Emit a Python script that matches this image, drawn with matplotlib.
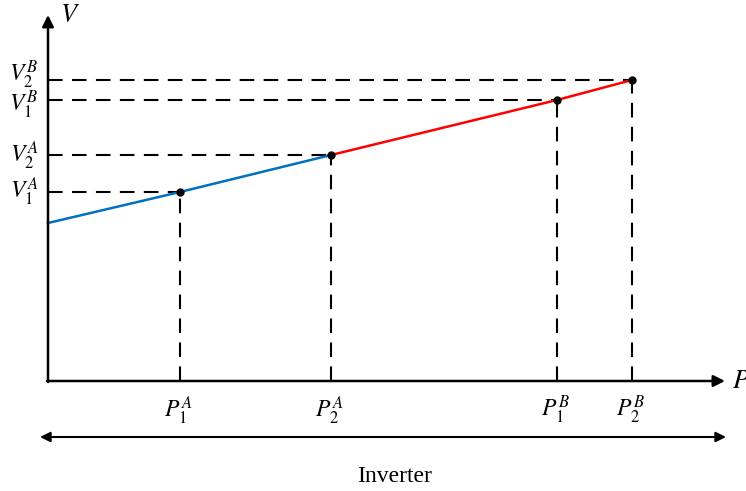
import matplotlib.pyplot as plt

plt.rcParams['mathtext.fontset'] = 'stix'

# operating points (power, voltage) in arbitrary units
p_labels = [r'$P_1^A$', r'$P_2^A$', r'$P_1^B$', r'$P_2^B$']
v_labels = [r'$V_1^A$', r'$V_2^A$', r'$V_1^B$', r'$V_2^B$']
p_vals = [132, 283, 509, 584]
v_vals = [189, 226, 281, 301]

# characteristic lines
blue_p = [0, 132, 283]
blue_v = [158, 189, 226]
red_p = [283, 509, 584]
red_v = [226, 281, 301]

x_max = 677
y_max = 366

fig = plt.figure(figsize=(7.46, 4.91), dpi=100)
ax = fig.add_axes([0, 0, 1, 1])
ax.set_xlim(-48, 698)
ax.set_ylim(-110, 381)
ax.axis('off')

dash = (0, (7, 4.5))
for p, v in zip(p_vals, v_vals):
    ax.plot([0, p], [v, v], color='black', lw=1.5, linestyle=dash)
    ax.plot([p, p], [0, v], color='black', lw=1.5, linestyle=dash)

ax.plot(blue_p, blue_v, color='#0070C0', lw=1.8, zorder=3)
ax.plot(red_p, red_v, color='#FF0000', lw=1.8, zorder=3)
ax.plot(p_vals, v_vals, 'o', color='black', ms=5, zorder=4)

# axes with arrow heads
arrow = dict(arrowstyle='-|>', color='black', lw=1.8, mutation_scale=17,
             shrinkA=0, shrinkB=0)
ax.annotate('', xy=(x_max, 0), xytext=(-1, 0), arrowprops=arrow)
ax.annotate('', xy=(0, y_max), xytext=(0, -1), arrowprops=arrow)
ax.text(x_max + 7, 0, r'$P$', fontsize=19, ha='left', va='center')
ax.text(12, y_max, r'$V$', fontsize=19, ha='left', va='center')

for p, lab in zip(p_vals, p_labels):
    ax.text(p - 2, -29, lab, fontsize=17, ha='center', va='center')
v_offsets = [1, 0, -5, 5]
for v, lab, off in zip(v_vals, v_labels, v_offsets):
    ax.text(-10, v + off, lab, fontsize=17, ha='right', va='center')

# inverter range
both = dict(arrowstyle='<|-|>', color='black', lw=1.5, mutation_scale=15,
            shrinkA=0, shrinkB=0)
ax.annotate('', xy=(x_max + 1, -56), xytext=(-8, -56), arrowprops=both)
ax.text(347, -96, 'Inverter', fontsize=17, ha='center', va='center',
        family='Liberation Serif')

fig.savefig('out.png', dpi=100)
